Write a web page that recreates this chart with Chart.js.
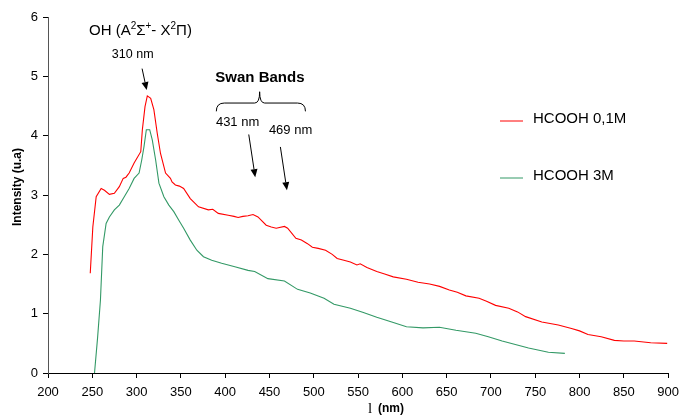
<!DOCTYPE html>
<html>
<head>
<meta charset="utf-8">
<script src="https://cdn.jsdelivr.net/npm/chart.js@4.4.1/dist/chart.umd.min.js"></script>
<style>
  html, body { margin: 0; padding: 0; background: #fff; }
  #wrap { width: 686px; height: 418px; position: relative; }
</style>
</head>
<body>
<div id="wrap"><canvas id="grafico" width="686" height="418"></canvas></div>
<script>
const redNm = [247.7, 250.6, 254.4, 260, 263.7, 269.3, 274.9, 280.5, 284.9, 288, 291.6, 297.2, 304.7, 306.5, 309.5, 312.1, 315.9, 319.5, 323.3, 327, 332.7, 338.2, 340, 343.8, 348.3, 353.1, 360.6, 369.9, 381, 386, 392.2, 403.4, 410, 414.6, 420, 425.8, 431.4, 437, 446.3, 452, 457.5, 466.9, 470.5, 479.8, 486, 492.9, 498.4, 505, 513.3, 520.8, 526.4, 534, 541.3, 548.7, 552.4, 560, 571.1, 580, 589.7, 604.6, 617.7, 630.7, 642, 653, 662, 671.7, 686.6, 695, 705.2, 720.1, 730, 739.1, 757.4, 776, 790.9, 800, 809.5, 824.4, 839.3, 850, 861.7, 880.3, 898.9];
const redInt = [1.68, 2.46, 2.97, 3.11, 3.08, 3.01, 3.03, 3.14, 3.28, 3.30, 3.37, 3.54, 3.73, 4.10, 4.49, 4.67, 4.63, 4.44, 4.04, 3.70, 3.37, 3.28, 3.22, 3.17, 3.15, 3.11, 2.94, 2.80, 2.75, 2.76, 2.69, 2.66, 2.64, 2.62, 2.64, 2.65, 2.67, 2.63, 2.49, 2.46, 2.44, 2.47, 2.44, 2.27, 2.24, 2.18, 2.12, 2.10, 2.07, 2.00, 1.93, 1.90, 1.87, 1.82, 1.84, 1.78, 1.71, 1.67, 1.62, 1.58, 1.53, 1.50, 1.46, 1.40, 1.36, 1.30, 1.26, 1.21, 1.14, 1.09, 1.03, 0.95, 0.86, 0.81, 0.75, 0.71, 0.65, 0.61, 0.55, 0.54, 0.54, 0.51, 0.50];

const greenNm = [252.5, 256, 259.2, 261.8, 265.6, 269.3, 274.9, 280.5, 286.1, 291.6, 297.2, 302.8, 305.8, 308.4, 311, 314.8, 317.7, 321.5, 325.2, 330.8, 336.4, 342, 347.5, 353.1, 360.6, 368, 375.5, 384.8, 396, 410.9, 425.8, 433.3, 448.2, 466.9, 481.7, 496, 511.6, 522.8, 541.3, 556, 571.1, 588, 604.6, 623.3, 641.8, 660.5, 682.8, 697, 712.6, 742.4, 764.8, 783.4];
const greenInt = [0, 0.6, 1.23, 2.13, 2.52, 2.63, 2.75, 2.83, 2.97, 3.11, 3.28, 3.37, 3.59, 3.82, 4.10, 4.10, 3.93, 3.59, 3.20, 2.97, 2.83, 2.72, 2.58, 2.44, 2.24, 2.07, 1.96, 1.90, 1.85, 1.79, 1.73, 1.71, 1.59, 1.55, 1.41, 1.35, 1.26, 1.16, 1.09, 1.02, 0.94, 0.86, 0.78, 0.76, 0.77, 0.72, 0.67, 0.61, 0.54, 0.42, 0.35, 0.33];

const xTicks = [200, 250, 300, 350, 400, 450, 500, 550, 600, 650, 700, 750, 800, 850, 900];
const yTicks = [0, 1, 2, 3, 4, 5, 6];

const series = [
  { label: "HCOOH 0,1M", nm: redNm, val: redInt, cor: "#ff0000" },
  { label: "HCOOH 3M", nm: greenNm, val: greenInt, cor: "#339966" }
];

const FONTE = "'Liberation Sans', Arial, sans-serif";

function seta(ctx, x1, y1, x2, y2) {
  const ang = Math.atan2(y2 - y1, x2 - x1);
  const L = 8, W = 3.5;
  const bx = x2 - L * Math.cos(ang), by = y2 - L * Math.sin(ang);
  ctx.beginPath();
  ctx.moveTo(x1, y1);
  ctx.lineTo(bx, by);
  ctx.stroke();
  ctx.beginPath();
  ctx.moveTo(x2, y2);
  ctx.lineTo(bx + W * Math.sin(ang), by - W * Math.cos(ang));
  ctx.lineTo(bx - W * Math.sin(ang), by + W * Math.cos(ang));
  ctx.closePath();
  ctx.fill();
}

// anotacoes, legenda e titulos dos eixos
const anotacoes = {
  id: "anotacoes",
  afterDraw(chart) {
    const ctx = chart.ctx;
    const sx = chart.scales.x, sy = chart.scales.y;
    const px = v => sx.getPixelForValue(v);
    const py = v => sy.getPixelForValue(v);
    ctx.save();
    ctx.fillStyle = "#000";
    ctx.strokeStyle = "#000";
    ctx.lineWidth = 1;
    ctx.textBaseline = "middle";

    // OH (A2Σ+- X2Π)
    let x = 89, y = 31;
    const partes = [["OH (A", 15, 0], ["2", 10, -5], ["Σ", 15, 0], ["+", 10, -5], ["- X", 15, 0], ["2", 10, -5], ["Π)", 15, 0]];
    ctx.textAlign = "left";
    for (const [t, s, dy] of partes) {
      ctx.font = s + "px " + FONTE;
      ctx.fillText(t, x, y + dy);
      x += ctx.measureText(t).width;
    }

    ctx.font = "12.5px " + FONTE;
    ctx.textAlign = "center";
    ctx.fillText("310 nm", px(295.6), py(5.36));
    seta(ctx, px(306.2), py(5.13), px(311.4), py(4.77));

    ctx.font = "bold 15px " + FONTE;
    ctx.fillText("Swan Bands", px(439.2), py(4.98));

    // chave
    const xl = px(390), xr = px(490.6), xc = px(438.9);
    const yl = py(4.55), ye = py(4.41), yp = py(4.74);
    ctx.beginPath();
    ctx.moveTo(xl, ye);
    ctx.quadraticCurveTo(xl, yl, xl + 8, yl);
    ctx.lineTo(xc - 5, yl);
    ctx.quadraticCurveTo(xc, yl, xc, yp);
    ctx.quadraticCurveTo(xc, yl, xc + 5, yl);
    ctx.lineTo(xr - 8, yl);
    ctx.quadraticCurveTo(xr, yl, xr, ye);
    ctx.stroke();

    ctx.font = "13px " + FONTE;
    ctx.fillText("431 nm", px(414), py(4.22));
    ctx.fillText("469 nm", px(473.8), py(4.08));
    seta(ctx, px(426.6), py(4.02), px(433.9), py(3.30));
    seta(ctx, px(462.3), py(3.81), px(469.7), py(3.08));

    // legenda
    ctx.font = "15px " + FONTE;
    ctx.textAlign = "left";
    [[121, 119], [178, 176]].forEach(([ly, ty], i) => {
      ctx.strokeStyle = series[i].cor;
      ctx.beginPath();
      ctx.moveTo(500, ly);
      ctx.lineTo(523, ly);
      ctx.stroke();
      ctx.fillText(series[i].label, 533, ty);
    });

    // titulo eixo y
    ctx.save();
    ctx.translate(18, 187);
    ctx.rotate(-Math.PI / 2);
    ctx.textAlign = "center";
    ctx.font = "bold 12px " + FONTE;
    ctx.fillText("Intensity (u.a)", 0, 0);
    ctx.restore();

    // titulo eixo x
    ctx.textAlign = "left";
    ctx.font = "15px 'Liberation Serif', serif";
    ctx.fillText("l", 368, 409);
    ctx.font = "bold 12px " + FONTE;
    ctx.fillText("(nm)", 378, 409);
    ctx.restore();
  }
};

new Chart(document.getElementById("grafico"), {
  type: "line",
  data: {
    datasets: series.map(s => ({
      label: s.label,
      data: s.nm.map((n, i) => ({ x: n, y: s.val[i] })),
      borderColor: s.cor,
      borderWidth: 1.1,
      pointRadius: 0,
      tension: 0,
      fill: false
    }))
  },
  options: {
    responsive: false,
    animation: false,
    layout: { padding: { top: 17, right: 12, left: 0, bottom: 0 } },
    plugins: { legend: { display: false }, tooltip: { enabled: false } },
    scales: {
      x: {
        type: "linear",
        min: 200, max: 900,
        afterBuildTicks: s => { s.ticks = xTicks.map(v => ({ value: v })); },
        afterFit: s => { s.height = 45; },
        grid: { display: true, drawOnChartArea: false, drawTicks: true, tickLength: 5, color: "#000" },
        border: { display: true, color: "#000", width: 1 },
        ticks: { color: "#000", font: { family: FONTE, size: 13 }, padding: 7, maxRotation: 0, autoSkip: false }
      },
      y: {
        min: 0, max: 6,
        afterBuildTicks: s => { s.ticks = yTicks.map(v => ({ value: v })); },
        afterFit: s => { s.width = 48; },
        grid: { display: true, drawOnChartArea: false, drawTicks: true, tickLength: 5, color: "#000" },
        border: { display: true, color: "#555", width: 1 },
        ticks: { color: "#000", font: { family: FONTE, size: 13 }, padding: 5 }
      }
    }
  },
  plugins: [anotacoes]
});
</script>
</body>
</html>
